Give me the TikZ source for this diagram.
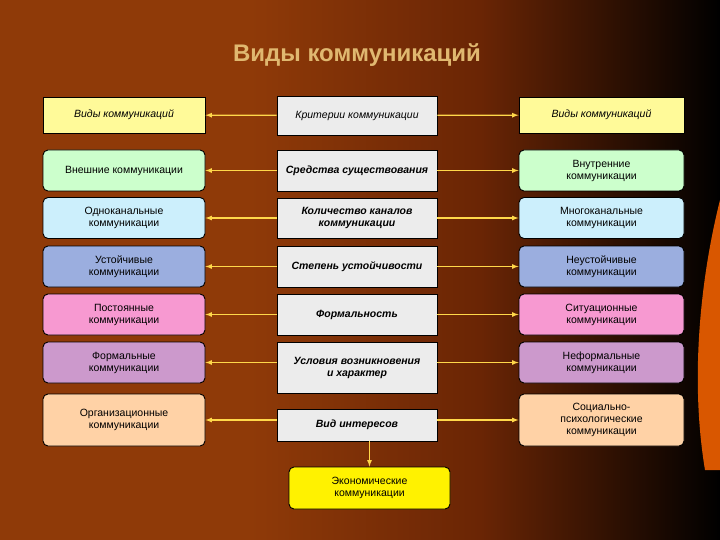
\documentclass[tikz,border=0pt]{standalone}
\usepackage{fontspec}
\setmainfont{Liberation Sans}
\definecolor{bgL}{HTML}{8F3A08}
\definecolor{bgM}{HTML}{6A2505}
\definecolor{ttl}{HTML}{E0B870}
\definecolor{arrc}{HTML}{FFD84A}
\begin{document}
\begin{tikzpicture}[x=1pt,y=-1pt,
 fs/.style={font=\fontsize{10.5}{12}\selectfont},
 box/.style={draw=black,line width=0.9pt,minimum width=162pt,inner sep=1pt,align=center,fs},
 side/.style={box,rounded corners=5pt},
 mid/.style={box,fill=gray!15,minimum width=160pt,font=\fontsize{10.5}{12}\selectfont\bfseries\itshape},
 arr/.style={draw=arrc,line width=1.2pt,-latex}]
\shade[left color=bgL,right color=black,middle color=bgM] (0,0) rectangle (720,540);
\fill[bgL] (0,0) rectangle (250,540);
\shade[left color=bgL,right color=bgM] (250,0) rectangle (480,540);
\shade[left color=bgM,right color=black] (480,0) rectangle (720,540);
\fill[orange!80!red!85!black] (720,200) .. controls (700,280) and (690,380) .. (705,470) -- (720,470) -- cycle;
\useasboundingbox (0,0) rectangle (720,540);
\node[font=\fontsize{24}{28}\selectfont\bfseries,text=ttl] (t) at (357,55) {Виды коммуникаций};
% row 0
\node[box,fill=yellow!40,minimum height=36pt,font=\fontsize{10.5}{12}\selectfont\itshape] (l0) at (124,115) {Виды коммуникаций};
\node[mid,minimum height=39pt,font=\fontsize{10.5}{12}\selectfont\itshape] (c0) at (357,115.5) {Критерии коммуникации};
\node[box,fill=yellow!40,minimum height=36pt,minimum width=165pt,font=\fontsize{10.5}{12}\selectfont\itshape] (r0) at (601.5,115) {Виды коммуникаций};
% rows
\newcommand\myrow[7]{%
 \node[side,fill=#4,minimum height=41pt] (l#1) at (124,#2) {#5};
 \node[mid,minimum height=#3] (c#1) at (357,#2) {#6};
 \node[side,fill=#4,minimum height=41pt,minimum width=165pt] (r#1) at (601.5,#2) {#7};
 \draw[arr] (c#1) -- (l#1); \draw[arr] (c#1) -- (r#1);}
\myrow{1}{170.5}{41pt}{green!20}{Внешние коммуникации}{Средства существования}{Внутренние\\коммуникации}
\myrow{2}{218}{40pt}{cyan!20}{Одноканальные\\коммуникации}{Количество каналов\\коммуникации}{Многоканальные\\коммуникации}
\myrow{3}{266.5}{41pt}{cyan!40!blue!40}{Устойчивые\\коммуникации}{Степень устойчивости}{Неустойчивые\\коммуникации}
\myrow{4}{314.5}{41pt}{magenta!40}{Постоянные\\коммуникации}{Формальность}{Ситуационные\\коммуникации}
\node[side,fill=violet!40,minimum height=41pt] (l5) at (124,362.5) {Формальные\\коммуникации};
\node[mid,minimum height=51pt] (c5) at (357,367.5) {Условия возникновения\\и характер};
\node[side,fill=violet!40,minimum height=41pt,minimum width=165pt] (r5) at (601.5,362.5) {Неформальные\\коммуникации};
\draw[arr] (c5.west|-l5) -- (l5); \draw[arr] (c5.east|-r5) -- (r5);
\node[side,fill=orange!35,minimum height=52pt] (l6) at (124,420) {Организационные\\коммуникации};
\node[mid,minimum height=32pt] (c6) at (357,425) {Вид интересов};
\node[side,fill=orange!35,minimum height=52pt,minimum width=165pt] (r6) at (601.5,420) {Социально-\\психологические\\коммуникации};
\draw[arr] (c6.west|-l6) -- (l6); \draw[arr] (c6.east|-r6) -- (r6);
\node[side,fill=yellow,minimum height=42pt,minimum width=161pt] (b) at (369.5,488) {Экономические\\коммуникации};
\draw[arr] (c6.south-|b) -- (b);
\draw[arr] (c0) -- (l0); \draw[arr] (c0) -- (r0);
\end{tikzpicture}
\end{document}
